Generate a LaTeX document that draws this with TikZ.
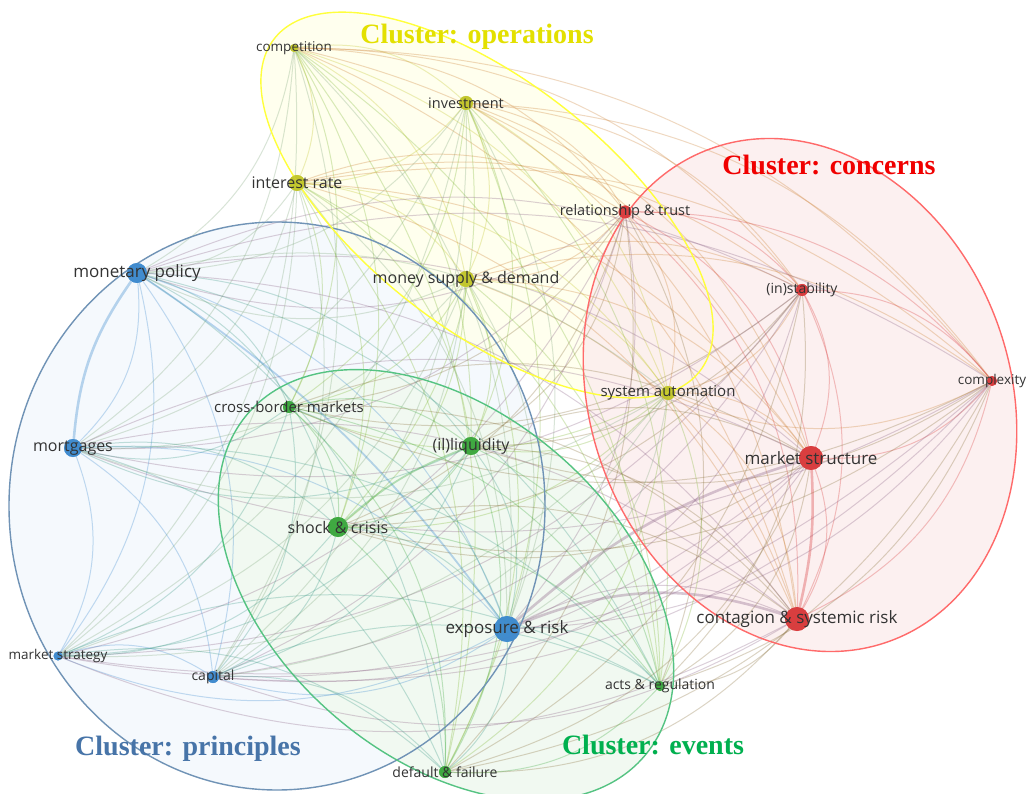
\documentclass[tikz,border=0pt]{standalone}
\usepackage{fontspec}
\setmainfont{Liberation Serif}
\setsansfont{Open Sans}
\definecolor{ylw}{HTML}{C2C62A}
\definecolor{rd}{HTML}{D93A3C}
\definecolor{blu}{HTML}{3D8ACF}
\definecolor{grn}{HTML}{3CA83E}
\definecolor{ylwline}{HTML}{FFFF3C}
\definecolor{rdline}{HTML}{FF6A6A}
\definecolor{bluline}{HTML}{7093B6}
\definecolor{grnline}{HTML}{55C382}
\definecolor{ylwtitle}{HTML}{E3E000}
\definecolor{rdtitle}{HTML}{F00000}
\definecolor{blutitle}{HTML}{4774A8}
\definecolor{grntitle}{HTML}{00B04F}
\definecolor{lbltext}{HTML}{333333}
\definecolor{ylwfill}{HTML}{FFFF40}

\begin{document}
\begin{tikzpicture}[x=1pt,y=-1pt,
    dot/.style={circle,inner sep=0pt,minimum size=#1,opacity=.85},
    lbl/.style={text=lbltext,font=\sffamily,inner sep=0pt},
    link/.style={line width=1pt,opacity=.3},
    strong/.style={line width=2.6pt,opacity=.35},
    title/.style={font=\bfseries\fontsize{28}{30}\selectfont,inner sep=0pt}]

\useasboundingbox (0,0) rectangle (1026,794);
\fill[white] (0,0) rectangle (1026,794);

% light fill of the four clusters
\fill[blu!5] (277,506) ellipse [x radius=268, y radius=284];
\fill[grn!7,rotate around={-41:(446,585)}] (446,585) ellipse [x radius=262, y radius=172];
\fill[ylwfill!10,opacity=.85,rotate around={-38:(487,205)}] (487,205) ellipse [x radius=270, y radius=124];
\fill[rd!9,opacity=.8,rotate around={20:(800,395)}] (800,395) ellipse [x radius=210, y radius=262];

% place the terms
\foreach \nm/\x/\y/\r/\c in {comp/294/48/8/ylw, inv/466/103/14/ylw, intr/297/183/16/ylw,
    rel/625/212/13/rd, money/466/279/16/ylw, mon/137/273/20/blu, inst/802/290/12/rd,
    cplx/992/381/10/rd, sys/668/393/14/ylw, cross/289/407/12/grn, liq/471/446/18/grn,
    mort/73/448/18/blu, mstr/811/458/24/rd, shock/338/527/20/grn, expo/507/629/26/blu,
    cont/797/619/24/rd, mstrat/58/656/9/blu, cap/213/677/12/blu, acts/660/686/10/grn,
    dflt/445/772/12/grn}
  \node[dot=\r pt,fill=\c] (\nm) at (\x,\y) {};

% links between every pair of terms
\def\termlist{comp/ylw,inv/ylw,intr/ylw,rel/rd,money/ylw,mon/blu,inst/rd,cplx/rd,sys/ylw,cross/grn,liq/grn,mort/blu,mstr/rd,shock/grn,expo/blu,cont/rd,mstrat/blu,cap/blu,acts/grn,dflt/grn}
\foreach \a/\ca [count=\i] in \termlist {
  \foreach \b/\cb [count=\j] in \termlist {
    \ifnum\j>\i
      \draw[link,color=\ca!50!\cb] (\a) to[bend left=25] (\b);
    \fi
  }
}

% the strongest links
\draw[strong,blu] (mon) to[bend right=15] (mort);
\draw[strong,rd] (mstr) to[bend left=8] (cont);
\draw[strong,blu!50!rd] (expo) to[bend left=20] (cont);
\draw[strong,blu!50!rd] (expo) to[bend left=12] (mstr);
\draw[strong,blu,line width=1.8pt] (mon) to[bend left=10] (expo);
\draw[strong,grn,line width=1.8pt] (shock) to[bend left=10] (liq);

% cluster outlines
\draw[bluline,line width=1.4pt] (277,506) ellipse [x radius=268, y radius=284];
\draw[grnline,line width=1.4pt,rotate around={-41:(446,585)}] (446,585) ellipse [x radius=262, y radius=172];
\draw[ylwline,line width=1.4pt,rotate around={-38:(487,205)}] (487,205) ellipse [x radius=270, y radius=124];
\draw[rdline,line width=1.4pt,rotate around={20:(800,395)}] (800,395) ellipse [x radius=210, y radius=262];

% draw the dots again on top of the links
\foreach \nm/\r/\c in {comp/8/ylw, inv/14/ylw, intr/16/ylw, rel/13/rd, money/16/ylw,
    mon/20/blu, inst/12/rd, cplx/10/rd, sys/14/ylw, cross/12/grn, liq/18/grn, mort/18/blu,
    mstr/24/rd, shock/20/grn, expo/26/blu, cont/24/rd, mstrat/9/blu, cap/12/blu,
    acts/10/grn, dflt/12/grn}
  \node[dot=\r pt,fill=\c] (\nm-dot) at (\nm) {};

% term labels
\foreach \nm/\fs/\txt in {comp/13.5/competition, inv/14.5/investment, intr/16/interest rate,
    rel/14.5/relationship \& trust, money/16/money supply \& demand,
    mon/17/monetary policy, inst/14/(in)stability, cplx/13.5/complexity,
    sys/15/system automation, cross/15/cross-border markets, liq/16/(il)liquidity,
    mort/16/mortgages, mstr/17/market structure, shock/16/shock \& crisis,
    expo/17/exposure \& risk, cont/17/contagion \& systemic risk,
    mstrat/13.5/market strategy, cap/14/capital, acts/14/acts \& regulation,
    dflt/14/default \& failure}
  \node[lbl,font=\sffamily\fontsize{\fs}{\fs}\selectfont] (\nm-txt) at (\nm) {\txt};

% cluster names
\node[title,text=ylwtitle] (t-ops) at (477,37) {Cluster: operations};
\node[title,text=rdtitle] (t-con) at (829,165) {Cluster: concerns};
\node[title,text=blutitle] (t-pri) at (188,749) {Cluster: principles};
\node[title,text=grntitle] (t-evt) at (653,745) {Cluster: events};

\end{tikzpicture}
\end{document}
